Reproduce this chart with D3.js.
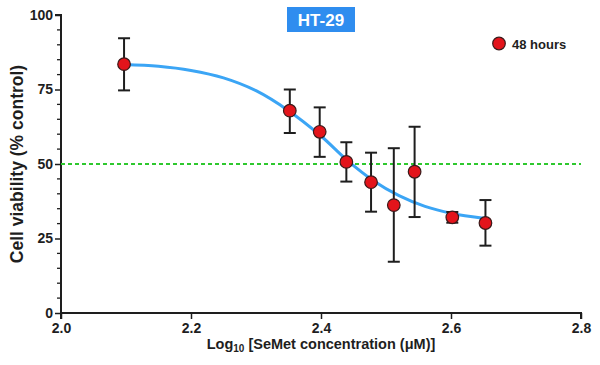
<!DOCTYPE html>
<html><head><meta charset="utf-8">
<script src="https://cdn.jsdelivr.net/npm/d3@7"></script>
<style>body{margin:0;background:#fff}svg{display:block}text{font-family:"Liberation Sans",Arial,sans-serif;font-weight:bold}</style>
</head><body>
<script>
const logConc = [2.097, 2.352, 2.398, 2.439, 2.477, 2.512, 2.544, 2.602, 2.653];
const viability = [83.5, 67.9, 60.8, 50.7, 43.9, 36.2, 47.4, 32.1, 30.2];
const errUpper = [92.2, 75.0, 69.0, 57.3, 53.8, 55.3, 62.5, 33.9, 37.9];
const errLower = [74.7, 60.4, 52.4, 44.1, 34.0, 17.2, 32.2, 30.3, 22.6];
const fitX = [2.097, 2.15, 2.2, 2.25, 2.3, 2.35, 2.4, 2.44, 2.48, 2.52, 2.56, 2.6, 2.653];
const fitY = [83.4, 82.8, 81.4, 78.9, 74.6, 67.9, 59.4, 51.3, 44.5, 39.4, 35.8, 33.5, 31.7];
const xTicks = [2.0, 2.2, 2.4, 2.6, 2.8];
const yTicks = [0, 25, 50, 75, 100];
const refLine = 50;
const title = "HT-29";
const legendLabel = "48 hours";

const W = 600, H = 365;
const svg = d3.select("body").append("svg").attr("width", W).attr("height", H);
const x = d3.scaleLinear().domain([2.0, 2.8]).range([61, 581]);
const y = d3.scaleLinear().domain([0, 100]).range([313, 15]);
const ink = "#1e1e1e";

// minor y ticks
const minor = d3.range(0, 101, 5).filter(v => v % 25 !== 0);
svg.append("g").selectAll("line").data(minor).join("line")
  .attr("x1", x(2.0) - 4).attr("x2", x(2.0)).attr("y1", d => y(d)).attr("y2", d => y(d))
  .attr("stroke", ink).attr("stroke-width", 1.3);

const yAxis = svg.append("g").attr("transform", `translate(${x(2.0)},0)`)
  .call(d3.axisLeft(y).tickValues(yTicks).tickSize(6).tickPadding(2).tickFormat(d3.format("d")));
const xAxis = svg.append("g").attr("transform", `translate(0,${y(0)})`)
  .call(d3.axisBottom(x).tickValues(xTicks).tickSize(6).tickPadding(4).tickFormat(d3.format(".1f")));
[yAxis, xAxis].forEach(a => {
  a.select(".domain").attr("stroke", ink).attr("stroke-width", 2);
  a.selectAll(".tick line").attr("stroke", ink).attr("stroke-width", 1.5);
  a.selectAll("text").attr("fill", ink).style("font-size", "14px").style("font-weight", "bold")
    .style("font-family", "'Liberation Sans',Arial,sans-serif");
});
xAxis.select(".domain").attr("d", `M${x(2.0)},6V0H${x(2.8)}V6`);
yAxis.select(".domain").attr("d", `M-6,${y(100)}H0V${y(0)}`);

// reference line
svg.append("line").attr("x1", x(2.0)).attr("x2", x(2.8))
  .attr("y1", y(refLine)).attr("y2", y(refLine))
  .attr("stroke", "#2ec82e").attr("stroke-width", 1.8).attr("stroke-dasharray", "4,3");

// fitted curve
svg.append("path").datum(d3.zip(fitX, fitY))
  .attr("d", d3.line().x(d => x(d[0])).y(d => y(d[1])).curve(d3.curveCatmullRom.alpha(0.5)))
  .attr("fill", "none").attr("stroke", "#3ba5f5").attr("stroke-width", 3);

// error bars
const pts = logConc.map((c, i) => ({c, v: viability[i], hi: errUpper[i], lo: errLower[i]}));
const eb = svg.append("g").attr("stroke", ink).attr("stroke-width", 2);
eb.selectAll(".v").data(pts).join("line")
  .attr("x1", d => x(d.c)).attr("x2", d => x(d.c)).attr("y1", d => y(d.hi)).attr("y2", d => y(d.lo));
eb.selectAll(".t").data(pts).join("line")
  .attr("x1", d => x(d.c) - 6).attr("x2", d => x(d.c) + 6).attr("y1", d => y(d.hi)).attr("y2", d => y(d.hi));
eb.selectAll(".b").data(pts).join("line")
  .attr("x1", d => x(d.c) - 6).attr("x2", d => x(d.c) + 6).attr("y1", d => y(d.lo)).attr("y2", d => y(d.lo));

svg.append("g").selectAll("circle").data(pts).join("circle")
  .attr("cx", d => x(d.c)).attr("cy", d => y(d.v)).attr("r", 6.3)
  .attr("fill", "#e3141b").attr("stroke", "#3a1a1a").attr("stroke-width", 1.2);

// title box
svg.append("rect").attr("x", 287).attr("y", 7).attr("width", 68).attr("height", 25).attr("fill", "#2f8def");
svg.append("text").attr("x", 321).attr("y", 26).attr("text-anchor", "middle")
  .attr("fill", "#fff").style("font-size", "17px").text(title);

// legend
svg.append("circle").attr("cx", 499).attr("cy", 43.5).attr("r", 6.3)
  .attr("fill", "#e3141b").attr("stroke", "#3a1a1a").attr("stroke-width", 1.2);
svg.append("text").attr("x", 512).attr("y", 48.5).attr("fill", ink).style("font-size", "13px").text(legendLabel);

// axis titles
svg.append("text").attr("transform", "translate(23,164) rotate(-90)").attr("text-anchor", "middle")
  .attr("fill", ink).style("font-size", "17.5px").text("Cell viability (% control)");
const xl = svg.append("text").attr("x", 321).attr("y", 349).attr("text-anchor", "middle")
  .attr("fill", ink).style("font-size", "14.5px");
xl.append("tspan").text("Log");
xl.append("tspan").attr("dy", 3).style("font-size", "10px").text("10");
xl.append("tspan").attr("dy", -3).text(" [SeMet concentration (μM)]");
</script>
</body></html>
